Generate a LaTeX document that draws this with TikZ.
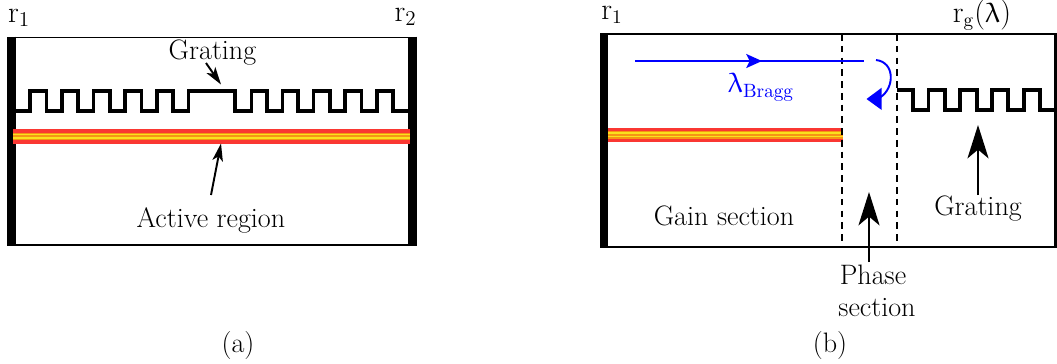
\documentclass[tikz,border=0pt]{standalone}
\usepackage{amsmath}
\usepackage{upgreek}
\usetikzlibrary{arrows.meta}
\tikzset{
  label text/.style={inner sep=0pt,font=\fontsize{16}{19}\selectfont},
  mirror label/.style={inner sep=0pt,font=\fontsize{18}{21}\selectfont},
  mirror/.style={line width=5pt,line cap=butt},
  wall/.style={line width=1.1pt},
  grating/.style={line width=2.1pt,line join=miter},
  section line/.style={line width=1.1pt,dash pattern=on 3.8pt off 2.9pt},
  big arrow/.style={line width=1.1pt,-{Stealth[length=19pt,width=12pt,inset=5pt]}},
  small arrow/.style={line width=1.1pt,-{Stealth[length=10pt,width=6pt,inset=2.5pt]}},
}
\definecolor{activered}{RGB}{250,55,50}
\definecolor{activeorange}{RGB}{245,150,20}
\definecolor{activeyellow}{RGB}{250,225,30}
\newcommand{\activeregion}[3]{
  \fill[activered] (#1,#3-7.3) rectangle (#2,#3+7.3);
  \fill[activeorange] (#1,#3-3.7) rectangle (#2,#3+3.7);
  \fill[activeyellow] (#1,#3-2.4) rectangle (#2,#3-1.2);
  \fill[activeyellow] (#1,#3+1.2) rectangle (#2,#3+2.4);
}
\begin{document}
\begin{tikzpicture}[x=.02cm,y=-.02cm]
  \useasboundingbox (0,0) rectangle (1057,363);

  \draw[wall] (12,37.5) -- (412,37.5);
  \draw[wall] (12,245) -- (412,245);

  \draw[grating] (16,111) -| (30,91) -| (46.5,111) -| (62,91) -| (78,111) -| (93.5,91)
    -| (110,111) -| (125,91) -| (141.5,111) -| (157,91) -| (173,111) -| (188.5,91)
    -| (235,111) -| (251.5,91) -| (267,111) -| (282.5,91) -| (298,111)
    -| (313.5,91) -| (330,111) -| (345,91) -| (361.5,111) -| (377,91) -| (393,111) -- (408,111);

  \draw[mirror] (11.5,36.5) -- (11.5,246);
  \draw[mirror] (412.5,36.5) -- (412.5,246);
  \activeregion{13}{410}{136.2}

  \node[mirror label] (rOneA) at (19,18) {\(\mathrm{r}_1\)};
  \node[mirror label] (rTwoA) at (405.5,17) {\(\mathrm{r}_2\)};
  \node[label text] (gratingA) at (212.5,53) {Grating};
  \node[label text] (activeA) at (211,220) {Active region};
  \node[label text] (a) at (238,345) {(a)};

  \coordinate (gratingTip) at (221,84.5);
  \coordinate (activeTip) at (221,143.5);
  \draw[small arrow] (206,63) -- (gratingTip);
  \draw[small arrow] (211,195) -- (activeTip);

  \draw[wall] (604,34) -- (1056,34);
  \draw[wall] (604,247) -- (1056,247);
  \draw[mirror] (604,33) -- (604,248);
  \draw[line width=1.7pt] (1055.3,33) -- (1055.3,248);
  \activeregion{608}{843}{134.8}
  \draw[section line] (842,34) -- (842,247);
  \draw[section line] (897,34) -- (897,247);

  \draw[grating] (897,90) -| (913,110) -| (928.5,90) -| (945,110) -| (960,90) -| (977,110)
    -| (992,90) -| (1008,110) -| (1024,90) -| (1040,110) -- (1055,110);

  \coordinate (braggStart) at (635,61);
  \coordinate (braggEnd) at (864,61);
  \draw[blue,line width=1.1pt] (braggStart) -- (braggEnd);
  \draw[blue,line width=1.1pt,-{Stealth[length=9pt,width=8pt,inset=2pt]}] (braggStart) -- (762,61);
  \coordinate (loopStart) at (876,60);
  \coordinate (loopEnd) at (866.5,99);
  \draw[blue,line width=1.1pt] (loopStart) .. controls (895,62) and (895,88) .. (880,97.5);
  \fill[blue] (loopEnd) -- (881.7,87.7) -- (881.7,110) -- cycle;

  \node[label text,blue] (bragg) at (761,87) {\(\uplambda_{\mathrm{Bragg}}\)};
  \node[label text] (rOneB) at (612,15) {\(\mathrm{r}_1\)};
  \node[label text] (rg) at (982,15) {\(\mathrm{r}_{\mathrm{g}}(\uplambda)\)};
  \node[label text] (gain) at (724,216) {Gain section};
  \node[label text] (gratingB) at (978,209) {Grating};
  \node[label text] (phase) at (873,275) {Phase};
  \node[label text] (section) at (877,307.5) {section};
  \node[label text] (b) at (830,345) {(b)};

  \coordinate (gratingArrow) at (978,125);
  \coordinate (phaseArrow) at (869,192);
  \draw[big arrow] (978,195) -- (gratingArrow);
  \draw[big arrow] (869,262) -- (phaseArrow);
\end{tikzpicture}
\end{document}
